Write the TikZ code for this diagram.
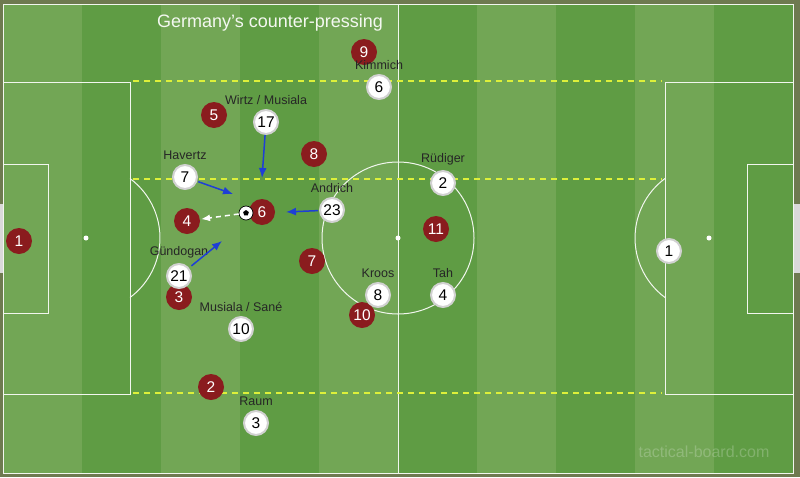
\documentclass[tikz,border=0pt]{standalone}
\usepackage{fontspec}
\setmainfont{Liberation Sans}
\usepackage{xcolor}
\usetikzlibrary{arrows.meta,positioning,shapes.geometric}
\definecolor{frame}{HTML}{6E7A50}
\definecolor{grassA}{HTML}{72A655}
\definecolor{grassB}{HTML}{5F9C44}
\definecolor{zoneyellow}{HTML}{DDF03A}
\definecolor{darkred}{HTML}{8A1C1E}
\definecolor{pressblue}{HTML}{1E3FD6}
\tikzset{%
	redp/.style      = {circle, fill=darkred, text=white, minimum size=26pt, inner sep=0pt, font=\fontsize{15.5}{15.5}\selectfont},
	whitep/.style    = {circle, fill=white, draw=black!18, line width=2pt, minimum size=24pt, inner sep=0pt, font=\fontsize{15.5}{15.5}\selectfont},
	lbl/.style       = {font=\fontsize{12.5}{12.5}\selectfont, text=black!85, label distance=1pt},
	pitchline/.style = {draw=white!90!grassA, line width=1pt},
	zone/.style      = {draw=zoneyellow, line width=1.3pt, dash pattern=on 6pt off 5pt},
	press/.style     = {draw=pressblue, line width=1.5pt, -{Latex[length=10pt,width=8pt]}},
	pass/.style      = {draw=white, line width=1.5pt, dash pattern=on 5pt off 4pt, -{Latex[length=9pt,width=7pt]}},
}

\begin{document}
\begin{tikzpicture}[x=1pt,y=-1pt]
	\fill[frame] (0,0) rectangle (800,477);
	\useasboundingbox (0,0) rectangle (800,477);
	% grass stripes
	\fill[grassB] (3,4) rectangle (793,473);
	\foreach \i in {0,2,...,8}
		\fill[grassA] (3+79*\i,4) rectangle (82+79*\i,473);
	% nets
	\fill[white!70!gray] (0,204) rectangle (3,273);
	\fill[white!70!gray] (793,204) rectangle (800,273);
	% pitch markings
	\draw[pitchline] (3,4) rectangle (793,473);
	\draw[pitchline] (398,4) -- (398,473);
	\draw[pitchline] (398,238) circle (76);
	\fill[white] (398,238) circle (2.5);
	\draw[pitchline] (3,82) rectangle (130,394);
	\draw[pitchline] (3,164) rectangle (48,313);
	\fill[white] (86,238) circle (2.5);
	\draw[pitchline] (86,238) ++(-53.5:74) arc[start angle=-53.5, end angle=53.5, radius=74];
	\draw[pitchline] (665,82) rectangle (793,394);
	\draw[pitchline] (747,164) rectangle (793,313);
	\fill[white] (709,238) circle (2.5);
	\draw[pitchline] (709,238) ++(126.5:74) arc[start angle=126.5, end angle=233.5, radius=74];
	% pressing zone
	\draw[zone] (133,81) -- (662,81);
	\draw[zone] (133,179) -- (662,179);
	\draw[zone] (133,393) -- (662,393);
	% title and watermark
	\node[text=white!92!grassA, font=\fontsize{18}{18}\selectfont] (title) at (270,23) {Germany's counter-pressing};
	\node[text=white, opacity=0.22, font=\fontsize{16}{16}\selectfont] (wmark) at (704,452) {tactical-board.com};
	% opponents
	\node[redp] (r1) at (19,241) {1};
	\node[redp] (r9) at (364,52) {9};
	\node[redp] (r5) at (214,115) {5};
	\node[redp] (r8) at (314,154) {8};
	\node[redp] (r4) at (187,221) {4};
	\node[redp] (r6) at (262,212) {6};
	\node[redp] (r7) at (312,261) {7};
	\node[redp] (r11) at (436,229) {11};
	\node[redp] (r3) at (179,297) {3};
	\node[redp] (r10) at (362,315) {10};
	\node[redp] (r2) at (211,387) {2};
	% Germany
	\node[whitep, label={[lbl]above:Kimmich}] (w6) at (379,87) {6};
	\node[whitep, label={[lbl]above:Wirtz / Musiala}] (w17) at (266,122) {17};
	\node[whitep, label={[lbl]above:Havertz}] (w7) at (185,177) {7};
	\node[whitep, label={[lbl]above:Rüdiger}] (w2) at (443,183) {2};
	\node[whitep, label={[lbl]above:Andrich}] (w23) at (332,210) {23};
	\node[whitep, label={[lbl]above:Gündogan}] (w21) at (179,276) {21};
	\node[whitep, label={[lbl]above:Kroos}] (w8) at (378,295) {8};
	\node[whitep, label={[lbl]above:Tah}] (w4) at (443,295) {4};
	\node[whitep, label={[lbl]above:Musiala / Sané}] (w10) at (241,329) {10};
	\node[whitep, label={[lbl]above:Raum}] (w3) at (256,423) {3};
	\node[whitep] (w1) at (669,251) {1};
	% ball
	\node[circle, fill=white, draw=black, line width=0.7pt, minimum size=14pt, inner sep=0pt] (ball) at (246,213) {};
	\node[regular polygon, regular polygon sides=5, fill=black, minimum size=6pt, inner sep=0pt] at (ball) {};
	% movements
	\coordinate (a17) at (262,178);
	\coordinate (a7) at (233,194);
	\coordinate (a23) at (286,212);
	\coordinate (a21) at (222,241);
	\draw[press] (w17) -- (a17);
	\draw[press, shorten <=1pt] (w7) -- (a7);
	\draw[press, shorten <=1pt] (w23) -- (a23);
	\draw[press, shorten <=3pt] (w21) -- (a21);
	\draw[pass, shorten >=1pt] (ball) -- (r4);
\end{tikzpicture}
\end{document}
